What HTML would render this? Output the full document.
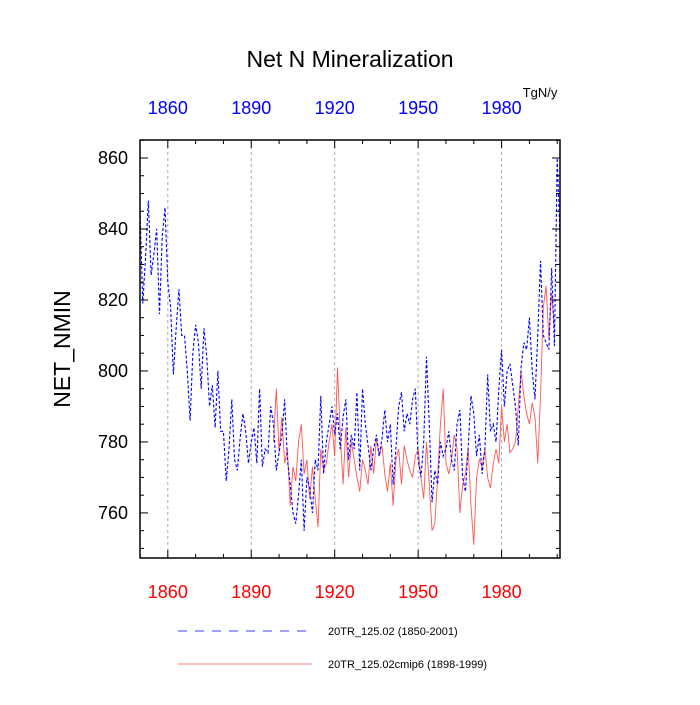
<!DOCTYPE html>
<html><head><meta charset="utf-8"><style>
body{margin:0;background:#fff;}
svg{font-family:"Liberation Sans",sans-serif;}
</style></head><body>
<svg id="chart" width="700" height="700">
<text x="350" y="67" font-size="23" text-anchor="middle">Net N Mineralization</text>
<text x="540" y="97" font-size="13" text-anchor="middle">TgN/y</text>
<text transform="translate(70,349) rotate(-90)" font-size="23" text-anchor="middle">NET_NMIN</text>
<g id="grid"></g><g id="series"></g><g id="axes"></g>
<g>
<line x1="178" y1="631" x2="312" y2="631" stroke="#00f" stroke-width="0.8" stroke-dasharray="9,8"/>
<text x="328" y="635" font-size="11">20TR_125.02 (1850-2001)</text>
<line x1="178" y1="664" x2="312" y2="664" stroke="#f00" stroke-width="0.6"/>
<text x="328" y="668" font-size="11">20TR_125.02cmip6 (1898-1999)</text>
</g>
</svg>
<script>
const blueStart=1850;
const blueValues=[845,819,832,848,827,833,840,816,838,846,
825,818,799,812,823,810,810,800,786,805,
813,808,795,812,804,790,796,784,800,783,
783,769,778,792,775,772,781,788,783,774,
780,784,774,795,773,778,777,790,785,772,
777,782,792,775,768,760,757,765,775,755,
770,767,760,775,772,793,771,780,785,790,
782,788,778,787,792,775,782,778,794,772,
795,785,779,772,778,782,776,781,789,780,
785,768,778,790,794,783,788,785,792,795,
775,770,780,804,785,763,772,768,780,776,
778,783,775,772,785,789,770,766,779,793,
788,776,782,771,778,799,783,785,780,795,
806,790,800,802,796,790,779,801,808,806,
815,800,792,810,831,810,808,806,829,807,
860,838];
const redStart=1898;
const redValues=[780,795,777,787,774,778,762,773,769,780,
785,771,775,764,773,764,756,778,772,774,
780,785,776,801,782,768,784,770,780,775,
770,766,775,772,768,779,771,781,776,779,
771,766,774,762,775,778,768,779,775,772,
770,776,778,770,764,780,768,755,757,770,
785,795,774,771,775,782,778,760,768,771,
778,762,751,770,775,773,778,770,767,774,
778,774,790,780,785,777,778,780,790,800,
793,788,785,791,787,774,793,818,824,809,
822,812];
const yTicks=[760,780,800,820,840,860];
const xTicks=[1860,1890,1920,1950,1980];

const L=140,R=560,T=140,B=558;
const x0=1850,x1=2001,y0=747.3,y1=865.07;
const X=v=>L+(v-x0)/(x1-x0)*(R-L);
const Y=v=>B-(v-y0)/(y1-y0)*(B-T);
const NS="http://www.w3.org/2000/svg";
function mk(tag,attrs,parent){const e=document.createElementNS(NS,tag);for(const k in attrs)e.setAttribute(k,attrs[k]);parent.appendChild(e);return e;}
const grid=document.getElementById('grid'),ser=document.getElementById('series'),ax=document.getElementById('axes');
xTicks.forEach(t=>{const g=mk('line',{x1:X(t),x2:X(t),y1:T,y2:B,stroke:'#aaa','stroke-width':1,'stroke-dasharray':'3,3'},grid);

});
function path(start,vals,color,dash,w,name){
 let d=vals.map((v,i)=>(i?'L':'M')+X(start+i).toFixed(2)+','+Y(v).toFixed(2)).join('');
 const p=mk('path',{d:d,fill:'none',stroke:color,'stroke-width':w},ser);
 if(dash)p.setAttribute('stroke-dasharray',dash);
 
 
}
path(redStart,redValues,'#f55','', 0.9,'series-cmip6-line');
path(blueStart,blueValues,'#00f','3,2',1.1,'series-20tr-line');
const frame=mk('rect',{x:L,y:T,width:R-L,height:B-T,fill:'none',stroke:'#000','stroke-width':1.5},ax);


for(let v=750;v<=865;v+=5){if(v<y0||v>y1)continue;const maj=yTicks.includes(v);const len=maj?8:4;
 mk('line',{x1:L,x2:L+len,y1:Y(v),y2:Y(v),stroke:'#000','stroke-width':1},ax);
 mk('line',{x1:R,x2:R-len,y1:Y(v),y2:Y(v),stroke:'#000','stroke-width':1},ax);}
yTicks.forEach(t=>{const tx=mk('text',{x:L-12,y:Y(t)+6,'font-size':18,'text-anchor':'end'},ax);tx.textContent=t;

});
for(let v=1850;v<=2000;v+=10){const maj=xTicks.includes(v);const len=maj?8:4;
 mk('line',{x1:X(v),x2:X(v),y1:B,y2:B-len,stroke:'#000','stroke-width':1},ax);
 mk('line',{x1:X(v),x2:X(v),y1:T,y2:T+len,stroke:'#000','stroke-width':1},ax);}
xTicks.forEach(t=>{
 const b=mk('text',{x:X(t),y:598,'font-size':18,'text-anchor':'middle',fill:'#f00'},ax);b.textContent=t;
 
 
 const u=mk('text',{x:X(t),y:114,'font-size':18,'text-anchor':'middle',fill:'#00f'},ax);u.textContent=t;
 
 });
</script>
</body></html>
